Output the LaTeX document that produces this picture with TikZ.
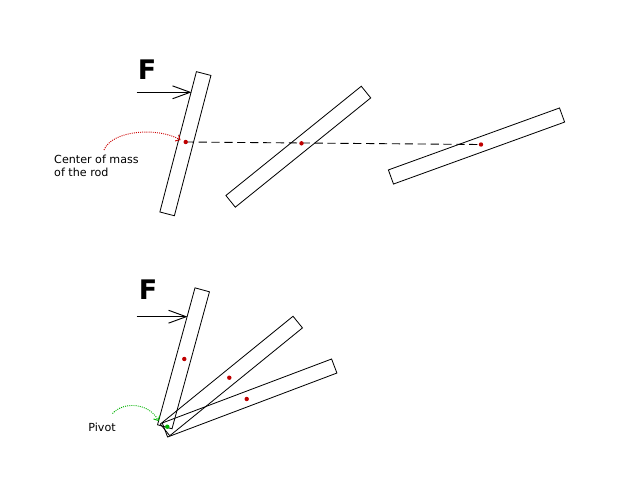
\documentclass[tikz,border=0pt]{standalone}
\usepackage{fontspec}
\usetikzlibrary{arrows.meta}
\newfontfamily\labelfont{DejaVu Sans}

\tikzset{
  rod/.style 2 args={draw, rectangle, inner sep=0pt, line width=0.7pt,
    minimum width=#1*0.03cm, minimum height=15*0.03cm, rotate=#2},
  cmdot/.style={fill=red!75!black},
  force/.style={line width=0.8pt, -{Straight Barb[length=15pt,width=11pt]}},
  smalltext/.style={font=\labelfont\fontsize{9.5}{11}\selectfont},
  bigletter/.style={font=\labelfont\fontsize{23}{23}\selectfont\bfseries},
}

\begin{document}
\begin{tikzpicture}[x=0.03cm, y=-0.03cm]
\useasboundingbox (0,0) rectangle (641,495);
%\draw[help lines, color=gray!30] (0,0) grid[step=50] (641,495);

% free rods
\node[rod={145}{75.4}] (rodone) at (185.4,143.7) {};
\node[rod={174}{38.9}] (rodtwo) at (298.3,146.7) {};
\node[rod={182}{19.9}] (rodthree) at (476.5,146) {};
\coordinate (cmone) at (185.7,142);
\coordinate (cmtwo) at (301.5,143.3);
\coordinate (cmthree) at (481,144.5);
\draw [dashed, dash pattern=on 7pt off 4pt, line width=0.75pt] (cmone) -- (cmthree);
\fill [cmdot] (cmone) circle (2.2);
\fill [cmdot] (cmtwo) circle (2.2);
\fill [cmdot] (cmthree) circle (2.2);
\node[bigletter] (ftop) at (147,70) {F};
\coordinate (ftail) at (136.5,92.3);
\coordinate (fhead) at (191.5,92.3);
\draw [force] (ftail) -- (fhead);
\node[smalltext, anchor=north west, align=left, inner sep=0pt] (cmlabel) at (54,155)
  {Center of mass\\of the rod};
\coordinate (cmstart) at (104,150);
\draw [red!80!black, densely dotted, line width=0.8pt, -{Straight Barb[length=3pt,width=6pt]}]
  (cmstart) .. controls (112,130) and (158,127) .. (180.5,140);

% pivoted rods
\coordinate (pivot) at (165,429);
\node[rod={142}{74.7}] (rodpa) at (183.5,358.3) {};
\node[rod={171}{39.1}] (rodpb) at (231.4,376) {};
\node[rod={181}{20.7}] (rodpc) at (249.6,398) {};
\fill [cmdot] (184.3,359) circle (2.2);
\fill [cmdot] (229.3,377.7) circle (2.2);
\fill [cmdot] (246.7,399) circle (2.2);
\fill [green!70!black] (167.3,426.7) circle (2.2);
\node[bigletter] (fbottom) at (148,290) {F};
\coordinate (gtail) at (136.5,316.7);
\coordinate (ghead) at (187.5,316.7);
\draw [force] (gtail) -- (ghead);
\node[smalltext] (pivotlabel) at (102,427.5) {Pivot};
\coordinate (pvstart) at (112.5,413.5);
\draw [green!70!black, densely dotted, line width=0.8pt, -{Straight Barb[length=3pt,width=6pt]}]
  (pvstart) .. controls (124,401) and (149,403) .. (158.5,421);
\end{tikzpicture}
\end{document}
